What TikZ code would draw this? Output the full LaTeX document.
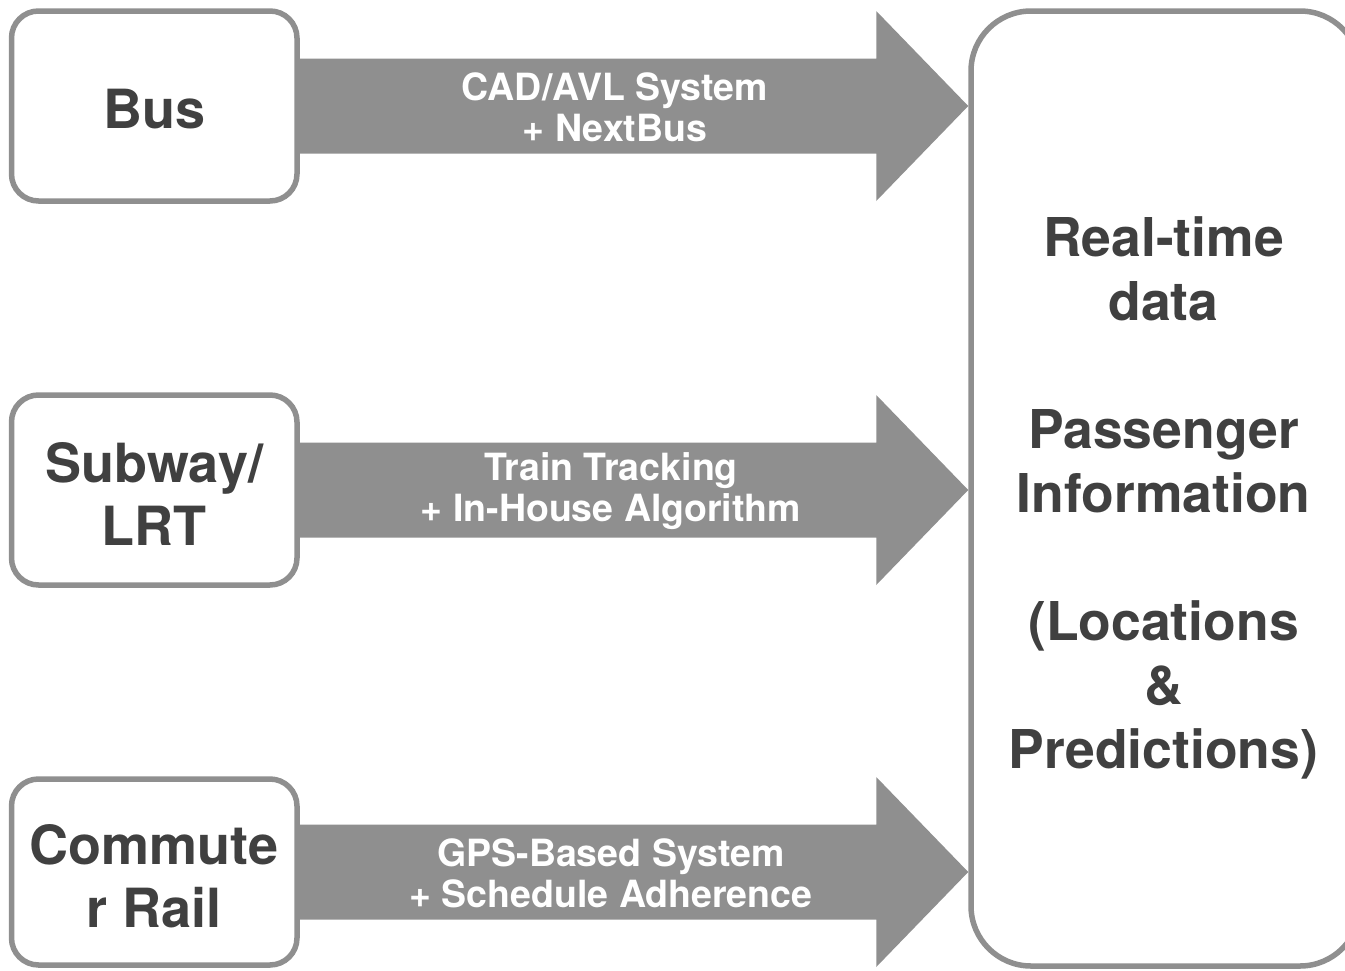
\documentclass[tikz,border=0pt]{standalone}
\usepackage{fontspec}
\setmainfont{TeX Gyre Heros}
\usetikzlibrary{calc}

\definecolor{edgegray}{HTML}{8F8F8F}
\definecolor{inkdark}{HTML}{404040}

\tikzset{
  modebox/.style={draw=edgegray, line width=5.5pt, fill=white, rounded corners=27pt,
    minimum width=285.5pt, inner sep=0pt},
  modelabel/.style={align=center, text=inkdark, inner sep=0pt,
    font=\bfseries\fontsize{54}{63}\selectfont},
  infobox/.style={draw=edgegray, line width=5.5pt, fill=white, rounded corners=60pt,
    minimum width=389pt, minimum height=955pt, inner sep=0pt},
  infotext/.style={align=center, text=inkdark, inner sep=0pt,
    font=\bfseries\fontsize{53.5}{64}\selectfont},
  flowlabel/.style={align=center, text=white, inner sep=0pt,
    font=\bfseries\fontsize{37.5}{41}\selectfont},
  blockarrow/.style={fill=edgegray, draw=none}
}

\begin{document}
\begin{tikzpicture}[x=1pt, y=-1pt]
  \useasboundingbox (0,0) rectangle (1345,970);

  % source modes
  \node[modebox, minimum height=190pt] (bus) at (154.25,106) {};
  \node[modebox, minimum height=190pt] (subway) at (154.25,490) {};
  \node[modebox, minimum height=186pt] (rail) at (154.25,872) {};
  \node[modelabel] (busl) at ($(bus.center)+(0,3)$) {Bus};
  \node[modelabel] (subwayl) at ($(subway.center)+(0,4)$) {Subway/\\LRT};
  \node[modelabel] (raill) at ($(rail.center)+(0,4)$) {Commute\\r Rail};

  % destination
  \node[infobox] (info) at (1165.5,488.5) {};
  \node[infotext] (infolbl) at ($(info.center)+(-2,9)$)
    {Real-time\\data\\[64pt]Passenger\\Information\\[64pt](Locations\\\&\\Predictions)};

  % block arrows: shaft half height 47.5, head half height 95, head length 92
  \foreach \src/\name in {bus/a1, subway/a2, rail/a3} {
    \path let \p1=(\src.east), \p2=(info.west) in
      coordinate (\name s) at (\x1,\y1)
      coordinate (\name t) at (\x2,\y1);
    \fill[blockarrow] ($(\name s)+(0,-47.5)$) -- ($(\name t)+(-92,-47.5)$)
      -- ($(\name t)+(-92,-95)$) -- (\name t) -- ($(\name t)+(-92,95)$)
      -- ($(\name t)+(-92,47.5)$) -- ($(\name s)+(0,47.5)$) -- cycle;
  }

  \node[flowlabel] (l1) at ($(a1s)!0.5!(a1t)+(-19,1)$) {CAD/AVL System\\+ NextBus};
  \node[flowlabel] (l2) at ($(a2s)!0.5!(a2t)+(-23,1)$) {Train Tracking\\+ In-House Algorithm};
  \node[flowlabel] (l3) at ($(a3s)!0.5!(a3t)+(-23,1)$) {GPS-Based System\\+ Schedule Adherence};
\end{tikzpicture}
\end{document}
